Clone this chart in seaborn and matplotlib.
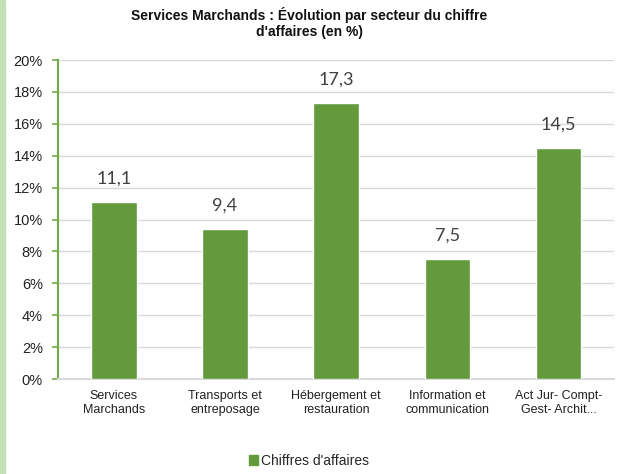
import matplotlib
matplotlib.use("Agg")
import matplotlib.pyplot as plt
import seaborn as sns
import pandas as pd
from matplotlib.patches import Rectangle, Patch

categories = ["Services\nMarchands", "Transports et\nentreposage", "Hébergement et\nrestauration",
              "Information et\ncommunication", "Act Jur- Compt-\nGest- Archit..."]
values = [11.1, 9.4, 17.3, 7.5, 14.5]
yticks = [0, 2, 4, 6, 8, 10, 12, 14, 16, 18, 20]
series_name = "Chiffres d'affaires"

sns.set_theme(style="white")
plt.rcParams['font.family'] = ['Liberation Sans', 'DejaVu Sans']

green = "#629A3C"
df = pd.DataFrame({"cat": categories, "val": values})

fig = plt.figure(figsize=(6.18, 4.74), dpi=100)
fig.patches.append(Rectangle((0, 0), 0.008, 1, transform=fig.transFigure,
                             color="#C5E0B4", zorder=0))
ax = fig.add_axes([0.094, 0.2004, 0.9, 0.673])
sns.barplot(data=df, x="cat", y="val", color=green, width=0.41, ax=ax, saturation=1, zorder=3)
ax.set_ylim(0, 20)
ax.set_yticks(yticks)
ax.set_yticklabels([f"{t}%" for t in yticks], fontsize=10.5, color="#222222")
ax.tick_params(axis='x', labelsize=9, colors="#222222", length=0, pad=8)
ax.tick_params(axis='y', left=True, length=4, width=1.2, color="#70AD47", pad=7)
ax.set_xlabel("")
ax.set_ylabel("")
ax.grid(axis='y', color="#D9D9D9", linewidth=1, zorder=0)
for s in ["top", "right"]:
    ax.spines[s].set_visible(False)
ax.spines["left"].set_color("#70AD47")
ax.spines["left"].set_linewidth(1.5)
ax.spines["bottom"].set_color("#D9D9D9")
ax.spines["bottom"].set_linewidth(1.5)
for p, v in zip(ax.patches, values):
    ax.annotate(f"{v:.1f}".replace(".", ","), (p.get_x() + p.get_width() / 2, v),
                xytext=(0, 11), textcoords="offset points", ha="center", va="bottom",
                fontsize=13, color="#404040", family=["Lato", "DejaVu Sans"])
fig.suptitle("Services Marchands : Évolution par secteur du chiffre\nd'affaires (en %)",
             fontsize=10, fontweight="bold", y=0.985, x=0.5, color="#111111")
fig.legend(handles=[Patch(color=green, label=series_name)], loc="center",
           bbox_to_anchor=(0.5, 0.027), frameon=False, fontsize=10,
           handlelength=0.7, handleheight=0.7, handletextpad=0.2)
fig.savefig("out.png", dpi=100)
